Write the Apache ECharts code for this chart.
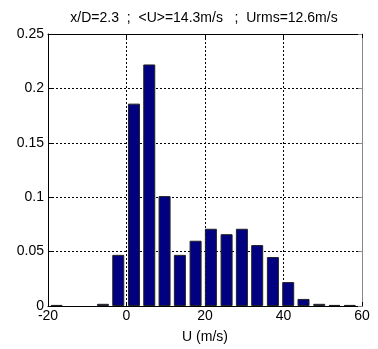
<!DOCTYPE html>
<html>
<head>
<meta charset="utf-8">
<title>Histogram U</title>
<script src="https://cdn.jsdelivr.net/npm/echarts@6/dist/echarts.min.js"></script>
<style>
  html, body { margin: 0; padding: 0; background: #fff; }
</style>
</head>
<body>
<div id="main" style="width:378px;height:349px;"></div>
<script>
// bin centres (m/s) and probabilities (null = empty bin)
var binCenters = [-17.8, -13.9, -9.9, -6.0, -2.1, 1.9, 5.8, 9.7, 13.6, 17.6,
                  21.5, 25.5, 29.4, 33.3, 37.3, 41.2, 45.1, 49.1, 53.0, 56.9];
var probs = [0.001, null, null, 0.002, 0.047, 0.186, 0.222, 0.101, 0.047, 0.060,
             0.071, 0.066, 0.071, 0.056, 0.045, 0.022, 0.0065, 0.002, 0.001, 0.001];
var xTicks = [-20, 0, 20, 40, 60];
var yTicks = [0, 0.05, 0.1, 0.15, 0.2, 0.25];
var title = 'x/D=2.3  ;  <U>=14.3m/s   ;  Urms=12.6m/s';
var xName = 'U (m/s)';

var chart = echarts.init(document.getElementById('main'));

var barData = [];
for (var i = 0; i < binCenters.length; i++) {
    barData.push([binCenters[i], probs[i] == null ? '-' : probs[i]]);
}

var font = 'Liberation Sans, Arial, sans-serif';
var dotted = { color: '#000', type: [2, 2], width: 1 };

var option = {
    animation: false,
    textStyle: { fontFamily: font },
    graphic: [{
        type: 'text', x: 204, y: 18,
        style: { text: title, font: '14px ' + font, fill: '#000',
                 align: 'center', verticalAlign: 'middle' }
    }],
    grid: { left: 48, right: 16, top: 34, bottom: 40 },
    xAxis: [{
        type: 'value',
        min: xTicks[0], max: xTicks[xTicks.length - 1], interval: 20,
        name: xName, nameLocation: 'middle', nameGap: 24,
        nameTextStyle: { fontSize: 14, color: '#000', fontFamily: font },
        axisLine: { onZero: false, lineStyle: { color: '#000' } },
        axisTick: { inside: true, length: 4, lineStyle: { color: '#000' } },
        axisLabel: { fontSize: 14, color: '#000', margin: 3, fontFamily: font },
        splitLine: { show: true, lineStyle: dotted }
    }, {
        type: 'value', position: 'top',
        min: xTicks[0], max: xTicks[xTicks.length - 1], interval: 20,
        axisLine: { show: true, onZero: false, lineStyle: { color: '#000' } },
        axisTick: { inside: true, length: 4, lineStyle: { color: '#000' } },
        axisLabel: { show: false }, splitLine: { show: false }
    }],
    yAxis: [{
        type: 'value',
        min: yTicks[0], max: yTicks[yTicks.length - 1], interval: 0.05,
        axisLine: { show: true, onZero: false, lineStyle: { color: '#000' } },
        axisTick: { show: true, inside: true, length: 4, lineStyle: { color: '#000' } },
        axisLabel: { fontSize: 14, color: '#000', margin: 4, fontFamily: font,
                     formatter: function (v) { return String(+v.toFixed(2)); } },
        splitLine: { show: true, lineStyle: dotted }
    }, {
        type: 'value', position: 'right',
        min: yTicks[0], max: yTicks[yTicks.length - 1], interval: 0.05,
        axisLine: { show: true, onZero: false, lineStyle: { color: '#888' } },
        axisTick: { show: true, inside: true, length: 4, lineStyle: { color: '#888' } },
        axisLabel: { show: false }, splitLine: { show: false }
    }],
    series: [{
        type: 'bar',
        data: barData,
        barWidth: 12,
        itemStyle: { color: '#000080', borderColor: '#222', borderWidth: 1 },
        z: 1
    }]
};
chart.setOption(option);
</script>
</body>
</html>
